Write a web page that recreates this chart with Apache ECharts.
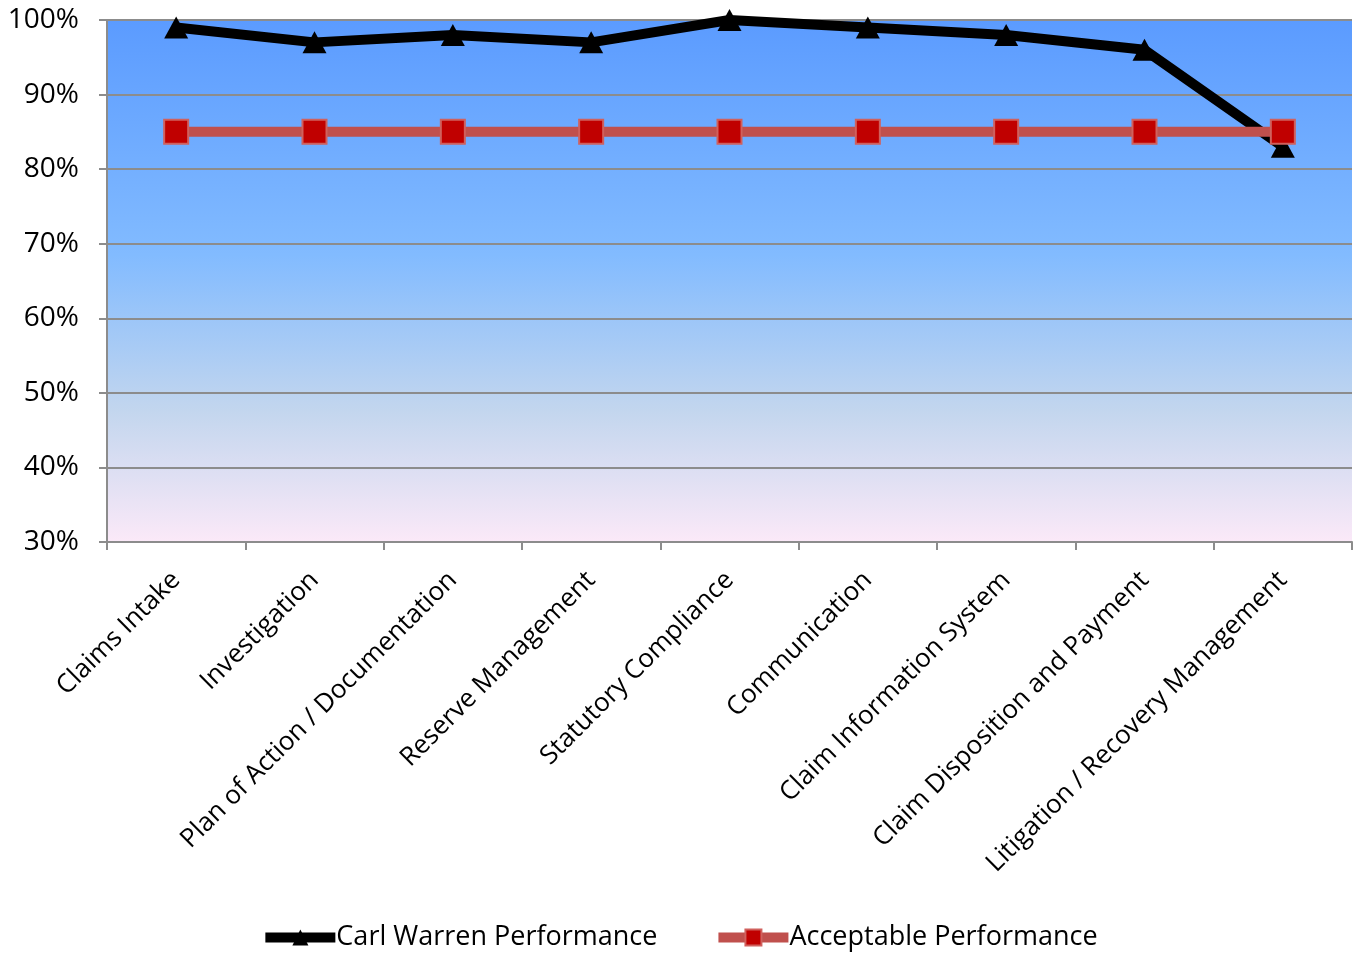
<!DOCTYPE html>
<html>
<head>
<meta charset="utf-8">
<script src="https://cdn.jsdelivr.net/npm/echarts@6/dist/echarts.min.js"></script>
<style>
  html, body { margin: 0; padding: 0; background: #fff; }
  #chart { width: 1358px; height: 958px; }
</style>
</head>
<body>
<div id="chart"></div>
<script>
let categories = ['Claims Intake', 'Investigation', 'Plan of Action / Documentation', 'Reserve Management',
    'Statutory Compliance', 'Communication', 'Claim Information System', 'Claim Disposition and Payment',
    'Litigation / Recovery Management'];
let carlWarren = [99, 97, 98, 97, 100, 99, 98, 96, 83];
let acceptable = [85, 85, 85, 85, 85, 85, 85, 85, 85];

let font = '"Open Sans", "Noto Sans", sans-serif';

let chart = echarts.init(document.getElementById('chart'));
chart.setOption({
    animation: false,
    textStyle: { fontFamily: font },
    grid: {
        left: 107, right: 6, top: 20, bottom: 416,
        show: true,
        borderWidth: 0,
        backgroundColor: {
            type: 'linear', x: 0, y: 0, x2: 0, y2: 1,
            colorStops: [
                { offset: 0, color: '#5b9bff' },
                { offset: 0.45, color: '#82bbff' },
                { offset: 0.75, color: '#c3d6ee' },
                { offset: 1, color: '#fbe9f8' }
            ]
        }
    },
    legend: {
        bottom: 2,
        left: 'center',
        itemWidth: 70,
        itemHeight: 20,
        itemGap: 56,
        lineStyle: { width: 10 },
        textStyle: { fontSize: 27, color: '#000', fontFamily: font, padding: [0, 0, 0, -4] },
        data: ['Carl Warren Performance', 'Acceptable Performance']
    },
    xAxis: {
        type: 'category',
        data: categories,
        boundaryGap: true,
        axisLine: { lineStyle: { color: '#8c8c8c', width: 2 } },
        axisTick: { show: true, length: 8, lineStyle: { color: '#8c8c8c', width: 2 } },
        axisLabel: {
            interval: 0,
            rotate: 45,
            fontSize: 26,
            color: '#000',
            margin: 34
        }
    },
    yAxis: {
        type: 'value',
        min: 30,
        max: 100,
        interval: 10,
        axisLine: { show: true, lineStyle: { color: '#8c8c8c', width: 2 } },
        axisTick: { show: true, length: 8, lineStyle: { color: '#8c8c8c', width: 2 } },
        splitLine: { lineStyle: { color: '#8c8c8c', width: 2 } },
        axisLabel: {
            formatter: '{value}%',
            fontSize: 28,
            color: '#000',
            margin: 28
        }
    },
    series: [
        {
            name: 'Acceptable Performance',
            type: 'line',
            data: acceptable,
            symbol: 'rect',
            symbolSize: 24,
            lineStyle: { color: '#c0504d', width: 10 },
            itemStyle: { color: '#c00000', borderColor: '#d0605d', borderWidth: 2 },
            z: 2
        },
        {
            name: 'Carl Warren Performance',
            type: 'line',
            data: carlWarren,
            symbol: 'triangle',
            symbolSize: [24, 22],
            lineStyle: { color: '#000', width: 10 },
            itemStyle: { color: '#000' },
            z: 1
        }
    ]
});
</script>
</body>
</html>
